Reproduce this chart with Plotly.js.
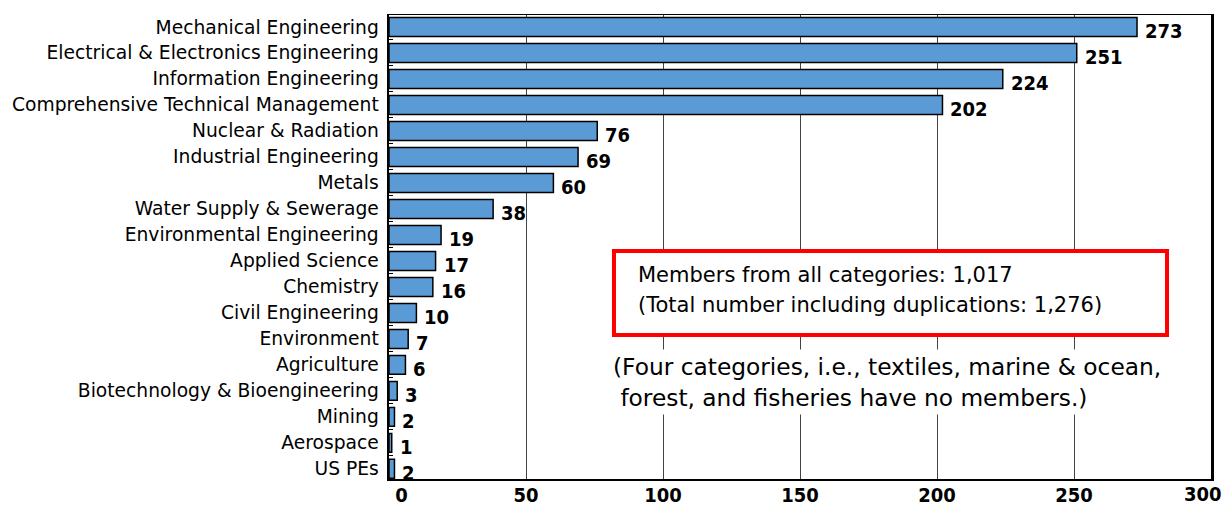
<!DOCTYPE html>
<html><head><meta charset="utf-8">
<script src="https://cdn.plot.ly/plotly-3.0.1.min.js"></script>
<style>html,body{margin:0;padding:0;background:#fff}#c{width:1225px;height:505px}</style>
</head><body><div id="c"></div>
<script>
const categories = ["Mechanical Engineering","Electrical & Electronics Engineering","Information Engineering","Comprehensive Technical Management","Nuclear & Radiation","Industrial Engineering","Metals","Water Supply & Sewerage","Environmental Engineering","Applied Science","Chemistry","Civil Engineering","Environment","Agriculture","Biotechnology & Bioengineering","Mining","Aerospace","US PEs"];
const members = [273,251,224,202,76,69,60,38,19,17,16,10,7,6,3,2,1,2];
const xTicks = [0,50,100,150,200,250,300];
const xTickText = ["&nbsp;&nbsp;&nbsp;&nbsp;0","50","100","150","200","250",""];
const lastTick = {value:300, label:"300"};
const boxLines = ["Members from all categories: 1,017","(Total number including duplications: 1,276)"];
const noteLines = ["(Four categories, i.e., textiles, marine & ocean,","&nbsp;forest, and fisheries have no members.)"];

const numFont = {family:"'DejaVu Sans Condensed','DejaVu Sans',sans-serif", size:20, color:'#000', weight:'bold'};
const catFont = {family:"'DejaVu Sans',sans-serif", size:18.7, color:'#000'};
const boxFont = {family:"'DejaVu Sans',sans-serif", size:21, color:'#000'};
const noteFont = {family:"'DejaVu Sans',sans-serif", size:23.3, color:'#000'};

const trace = {
  type:'bar', orientation:'h', x:members, y:categories,
  marker:{color:'#5B9BD5', line:{color:'#000', width:1.5}},
  width:0.73, hoverinfo:'none'
};

const annotations = members.map((v,i)=>({
  x:v, y:categories[i], xref:'x', yref:'y', text:String(v), showarrow:false,
  xanchor:'left', yanchor:'middle', xshift:6, yshift:-4, font:numFont
}));
annotations.push({xref:'x', yref:'paper', x:lastTick.value, y:0, text:lastTick.label, showarrow:false, xanchor:'center', yanchor:'top', xshift:-8, yshift:-1, font:numFont});
annotations.push({xref:'paper', yref:'paper', x:0.3005, y:0.4397, text:boxLines[0], showarrow:false, xanchor:'left', yanchor:'middle', font:boxFont});
annotations.push({xref:'paper', yref:'paper', x:0.3005, y:0.3750, text:boxLines[1], showarrow:false, xanchor:'left', yanchor:'middle', font:boxFont});
annotations.push({xref:'paper', yref:'paper', x:0.2737, y:0.2414, xshift:-5, text:noteLines[0], showarrow:false, xanchor:'left', yanchor:'middle', bgcolor:'#fff', borderpad:3, font:noteFont});
annotations.push({xref:'paper', yref:'paper', x:0.2737, y:0.1767, xshift:-5, text:noteLines[1], showarrow:false, xanchor:'left', yanchor:'middle', bgcolor:'#fff', borderpad:3, font:noteFont});

const layout = {
  width:1225, height:505,
  margin:{l:389, r:14, t:15, b:26},
  paper_bgcolor:'#fff', plot_bgcolor:'#fff',
  showlegend:false,
  xaxis:{range:[0,300], tickvals:xTicks, ticktext:xTickText, showgrid:true, gridcolor:'#444', gridwidth:1,
    zeroline:false, showline:true, linecolor:'#000', linewidth:1.5, mirror:true, ticks:'', tickfont:numFont, ticklabelstandoff:-3,
    fixedrange:true},
  yaxis:{type:'category', autorange:false, range:[17.39,-0.46], showgrid:false, zeroline:false, showline:true, linecolor:'#000', linewidth:2.5,
    mirror:true, ticks:'inside', ticklen:4, tickson:'boundaries', tickcolor:'#000', tickfont:catFont, ticklabelstandoff:4},
  shapes:[{type:'rect', xref:'paper', yref:'paper', x0:0.2737, x1:0.9465, y0:0.3103, y1:0.4914, line:{color:'#FF0000', width:4}, fillcolor:'#fff', layer:'above'}],
  annotations:annotations
};
Plotly.newPlot('c',[trace],layout,{displayModeBar:false, staticPlot:true});
</script></body></html>
